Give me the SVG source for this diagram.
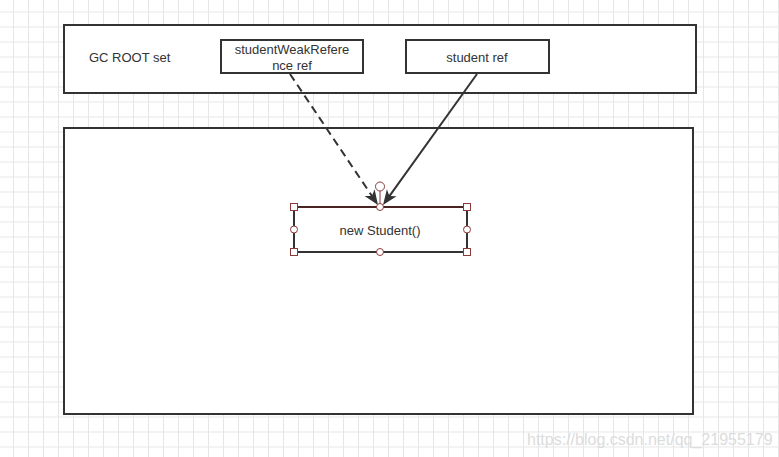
<svg xmlns="http://www.w3.org/2000/svg" width="779" height="457" viewBox="0 0 779 457">
<defs>
<pattern id="grid" x="13" y="11.5" width="15" height="15" patternUnits="userSpaceOnUse">
<path d="M0 0.5H15M0.5 0V15" fill="none" stroke="#e6e6e6" stroke-width="1"/>
</pattern>
<style>
.box{fill:#fff;stroke:#333;stroke-width:2}
.t{font-family:"Liberation Sans",Arial,sans-serif;font-size:13px;fill:#333}
.h{fill:#fff;stroke:#8b3a3a;stroke-width:1}
.c{fill:none;stroke:#333;stroke-width:2}
.head{fill:#333}
</style>
</defs>
<rect width="779" height="457" fill="#fff"/>
<rect width="779" height="457" fill="url(#grid)"/>
<g id="gcroot">
<rect class="box" x="64" y="25" width="632" height="68"/>
<text class="t" x="89" y="62">GC ROOT set</text>
</g>
<g id="heap">
<rect class="box" x="64" y="128" width="629" height="286"/>
</g>
<g id="weakref">
<rect class="box" x="221" y="40" width="142" height="33"/>
<text class="t" x="292" y="54" text-anchor="middle">studentWeakRefere</text>
<text class="t" x="292" y="70" text-anchor="middle">nce ref</text>
</g>
<g id="studentref">
<rect class="box" x="406" y="40" width="143" height="33"/>
<text class="t" x="477" y="62" text-anchor="middle">student ref</text>
</g>
<g id="connectors">
<line class="c" x1="290" y1="74" x2="371.9" y2="195.9" stroke-dasharray="8,5"/>
<path class="head" d="M378 205 L364.6 195.9 L371.9 195.9 L374.6 189.2 Z"/>
<line class="c" x1="477" y1="74" x2="389.4" y2="196.1"/>
<path class="head" d="M383 205 L386.9 189.3 L389.4 196.1 L396.6 196.3 Z"/>
</g>
<g id="student">
<rect x="294" y="207" width="173" height="45" fill="#fff" stroke="#333" stroke-width="2"/>
<line x1="294" y1="207" x2="467" y2="207" stroke="#4a2323" stroke-width="2"/>
<text class="t" x="380" y="235" text-anchor="middle">new Student()</text>
<line x1="380" y1="190" x2="380" y2="207" stroke="#8b3a3a" stroke-width="1"/>
<circle class="h" cx="380" cy="186.5" r="4.5"/>
<rect class="h" x="290.5" y="203.5" width="7" height="7"/>
<rect class="h" x="463.5" y="203.5" width="7" height="7"/>
<rect class="h" x="290.5" y="248.5" width="7" height="7"/>
<rect class="h" x="463.5" y="248.5" width="7" height="7"/>
<circle class="h" cx="380" cy="207" r="3.5"/>
<circle class="h" cx="380" cy="252" r="3.5"/>
<circle class="h" cx="294" cy="229.5" r="3.5"/>
<circle class="h" cx="467" cy="229.5" r="3.5"/>
</g>
<text x="527" y="445" font-family="'Liberation Sans',Arial,sans-serif" font-size="16" fill="#dcdcdc">https://blog.csdn.net/qq_21955179</text>
</svg>
